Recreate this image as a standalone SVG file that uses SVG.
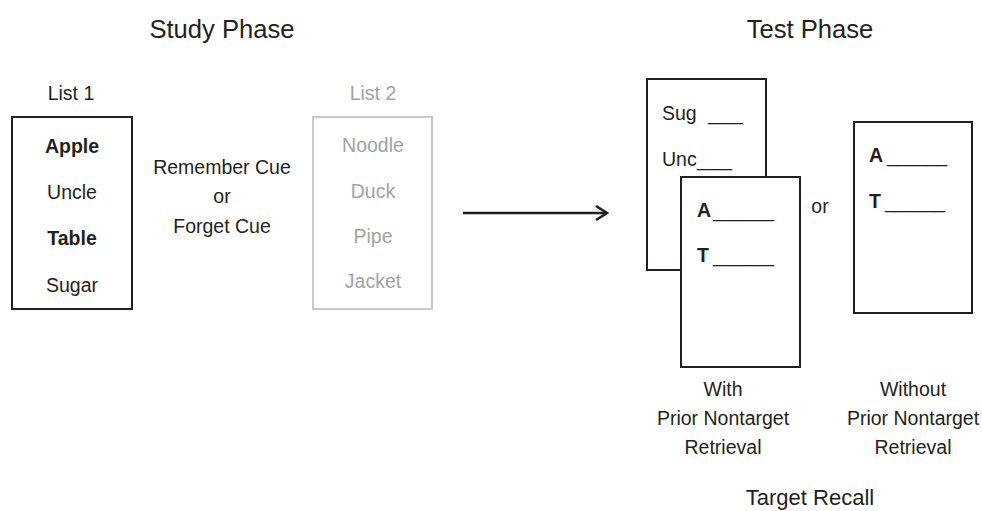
<svg xmlns="http://www.w3.org/2000/svg" width="982" height="511" viewBox="0 0 982 511">
<style>
text{font-family:"Liberation Sans",Arial,sans-serif;fill:#231f20;font-size:19.5px}
.c{text-anchor:middle}
.b{font-weight:bold}
.title{font-size:25.6px}
.grey{fill:#a3a3a3}
.box{fill:#fff;stroke:#231f20;stroke-width:2}
.gbox{fill:#fff;stroke:#c8c8c8;stroke-width:2}
.conn{stroke:#231f20;stroke-width:2.5;fill:none}
</style>
<defs>
<marker id="arr" viewBox="0 0 14 16" refX="12" refY="8" markerWidth="14" markerHeight="16" markerUnits="userSpaceOnUse" orient="auto">
<path d="M1,1 L12,8 L1,15" fill="none" stroke="#231f20" stroke-width="2.5"/>
</marker>
</defs>
<rect width="982" height="511" fill="#fff"/>
<g id="titles">
<text class="c title" x="222" y="38">Study Phase</text>
<text class="c title" x="810" y="38">Test Phase</text>
<text class="c" x="810" y="505" style="font-size:22px">Target Recall</text>
</g>
<g id="list1">
<text class="c" x="71" y="100">List 1</text>
<rect class="box" x="12" y="117" width="120" height="192"/>
<text class="c b" x="72" y="153">Apple</text>
<text class="c" x="72" y="199">Uncle</text>
<text class="c b" x="72" y="245">Table</text>
<text class="c" x="72" y="292">Sugar</text>
</g>
<g id="cue">
<text class="c" x="222" y="174">Remember Cue</text>
<text class="c" x="222" y="203">or</text>
<text class="c" x="222" y="233">Forget Cue</text>
</g>
<g id="list2">
<text class="c grey" x="373" y="100">List 2</text>
<rect class="gbox" x="313" y="117" width="119" height="192"/>
<text class="c grey" x="373" y="152">Noodle</text>
<text class="c grey" x="373" y="198">Duck</text>
<text class="c grey" x="373" y="243">Pipe</text>
<text class="c grey" x="373" y="288">Jacket</text>
</g>
<g id="connectors">
<line class="conn" x1="463" y1="213" x2="607" y2="213" marker-end="url(#arr)"/>
</g>
<g id="card-back">
<rect class="box" x="647" y="79" width="119" height="191"/>
<text x="662" y="120">Sug</text>
<text x="708" y="120" textLength="35" lengthAdjust="spacingAndGlyphs">___</text>
<text x="662" y="166">Unc</text>
<text x="697" y="166" textLength="35" lengthAdjust="spacingAndGlyphs">___</text>
</g>
<g id="card-front">
<rect class="box" x="681" y="177" width="119" height="190"/>
<text class="b" x="697" y="217">A</text>
<text x="713" y="217" textLength="61" lengthAdjust="spacingAndGlyphs">______</text>
<text class="b" x="697" y="262">T</text>
<text x="713" y="262" textLength="61" lengthAdjust="spacingAndGlyphs">______</text>
</g>
<g id="or-label">
<text class="c" x="820" y="213">or</text>
</g>
<g id="card-right">
<rect class="box" x="854" y="122" width="118" height="191"/>
<text class="b" x="869" y="162">A</text>
<text x="887" y="162" textLength="60" lengthAdjust="spacingAndGlyphs">______</text>
<text class="b" x="869" y="208">T</text>
<text x="885" y="208" textLength="60" lengthAdjust="spacingAndGlyphs">______</text>
</g>
<g id="caption-with">
<text class="c" x="723" y="396">With</text>
<text class="c" x="723" y="425">Prior Nontarget</text>
<text class="c" x="723" y="454">Retrieval</text>
</g>
<g id="caption-without">
<text class="c" x="913" y="396">Without</text>
<text class="c" x="913" y="425">Prior Nontarget</text>
<text class="c" x="913" y="454">Retrieval</text>
</g>
</svg>
